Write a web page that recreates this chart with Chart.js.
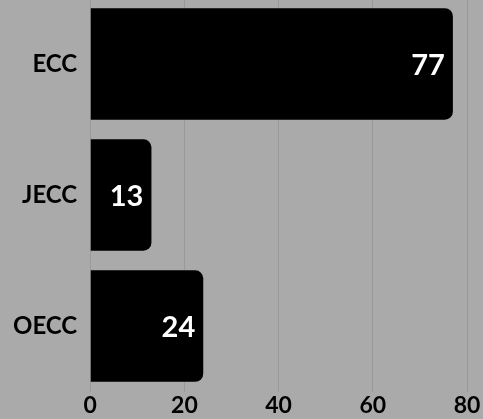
<!DOCTYPE html>
<html>
<head>
<meta charset="utf-8">
<script src="https://cdn.jsdelivr.net/npm/chart.js@4"></script>
<style>
  html, body { margin: 0; padding: 0; background: #aaaaaa; overflow: hidden; }
  #view { width: 483px; height: 419px; overflow: hidden; position: relative; }
  #wrap { width: 483px; height: 448px; position: absolute; top: -29px; left: 0; }
</style>
</head>
<body>
<div id="view"><div id="wrap"><canvas id="myChart"></canvas></div></div>
<script>
const categories = ['ECC', 'JECC', 'OECC'];
const values = [77, 13, 24];
const xTicks = [0, 20, 40, 60, 80];

// draws the value inside the end of each bar
const barLabels = {
  id: 'barLabels',
  afterDatasetsDraw(chart) {
    const ctx = chart.ctx;
    const meta = chart.getDatasetMeta(0);
    ctx.save();
    ctx.fillStyle = '#ffffff';
    ctx.font = 'bold 29px Lato';
    ctx.textAlign = 'right';
    ctx.textBaseline = 'middle';
    meta.data.forEach((bar, i) => {
      ctx.fillText(values[i], bar.x - 8, bar.y + 2);
    });
    ctx.restore();
  }
};

new Chart(document.querySelector('#myChart'), {
  type: 'bar',
  data: {
    labels: categories,
    datasets: [{
      data: values,
      backgroundColor: '#000000',
      borderRadius: 8,
      borderSkipped: 'start',
      barPercentage: 0.85,
      categoryPercentage: 1
    }]
  },
  options: {
    indexAxis: 'y',
    maintainAspectRatio: false,
    responsive: true,
    animation: false,
    layout: { autoPadding: false, padding: { top: 0, right: 16, bottom: 0, left: 0 } },
    plugins: { legend: { display: false }, tooltip: { enabled: false } },
    scales: {
      x: {
        min: 0, max: 80,
        afterBuildTicks: axis => { axis.ticks = xTicks.map(v => ({ value: v })); },
        grid: { color: '#999999', drawTicks: false, lineWidth: 1 },
        border: { display: false },
        ticks: { color: '#000', padding: 2, font: { family: 'Lato', weight: 'bold', size: 23, lineHeight: 1 } }
      },
      y: {
        grid: { display: false, drawTicks: false },
        border: { display: true, color: '#999999' },
        ticks: { color: '#000', padding: 13, font: { family: 'Lato', weight: 'bold', size: 24 } }
      }
    }
  },
  plugins: [barLabels]
});
</script>
</body>
</html>
